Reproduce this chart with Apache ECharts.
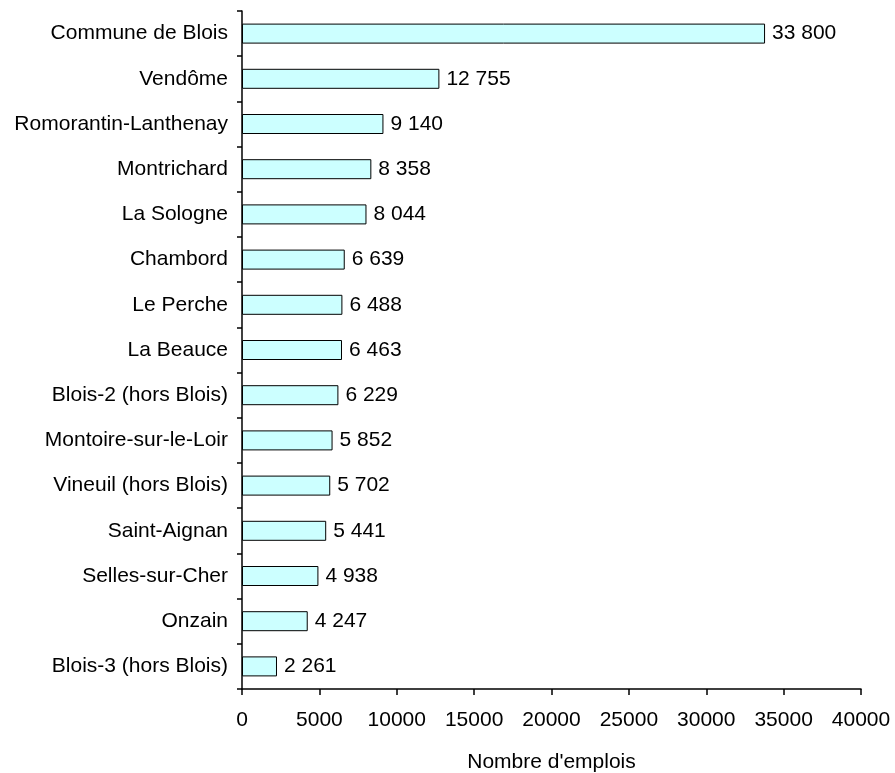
<!DOCTYPE html>
<html><head><meta charset="utf-8">
<script src="https://cdn.jsdelivr.net/npm/echarts@6/dist/echarts.min.js"></script>
<style>html,body{margin:0;padding:0;background:#fff}#c{width:895px;height:773px}</style>
</head><body><div id="c"></div>
<script>
const categories = ["Commune de Blois","Vendôme","Romorantin-Lanthenay","Montrichard","La Sologne","Chambord","Le Perche","La Beauce","Blois-2 (hors Blois)","Montoire-sur-le-Loir","Vineuil (hors Blois)","Saint-Aignan","Selles-sur-Cher","Onzain","Blois-3 (hors Blois)"];
const values = [33800,12755,9140,8358,8044,6639,6488,6463,6229,5852,5702,5441,4938,4247,2261];
const xTicks = [0,5000,10000,15000,20000,25000,30000,35000,40000];

function fmt(v){return String(v).replace(/\B(?=(\d{3})+(?!\d))/g,' ');}
const font = 'Liberation Sans, Arial, sans-serif';
const fs = 21;
const chart = echarts.init(document.getElementById('c'));
chart.setOption({
  animation:false,
  grid:{left:242,right:34,top:11,bottom:84,containLabel:false,outerBoundsMode:'none'},
  xAxis:{type:'value',min:xTicks[0],max:xTicks[xTicks.length-1],interval:5000,
    name:"Nombre d'emplois",nameLocation:'middle',nameGap:63,
    nameTextStyle:{fontFamily:font,fontSize:fs,color:'#000',verticalAlign:'top'},
    axisLine:{show:true,lineStyle:{color:'#000',width:1.5}},
    axisTick:{show:true,length:6,lineStyle:{color:'#000',width:1.5}},
    axisLabel:{fontFamily:font,fontSize:fs,color:'#000',margin:21,formatter:v=>String(v)},
    splitLine:{show:false}},
  yAxis:{type:'category',data:categories.slice().reverse(),
    axisLine:{show:true,lineStyle:{color:'#000',width:1.5}},
    axisTick:{show:true,length:5,inside:false,lineStyle:{color:'#000',width:1.5}},
    axisLabel:{fontFamily:font,fontSize:fs,color:'#000',margin:14,padding:[2,0,0,0]}},
  series:[{type:'bar',data:values.slice().reverse(),barWidth:20,
    itemStyle:{color:'#CCFFFF',borderColor:'#000',borderWidth:1},
    label:{show:true,position:'right',distance:7,fontFamily:font,fontSize:fs,color:'#000',
      padding:[3,0,0,0],formatter:p=>fmt(p.value)}}]
});
</script></body></html>
